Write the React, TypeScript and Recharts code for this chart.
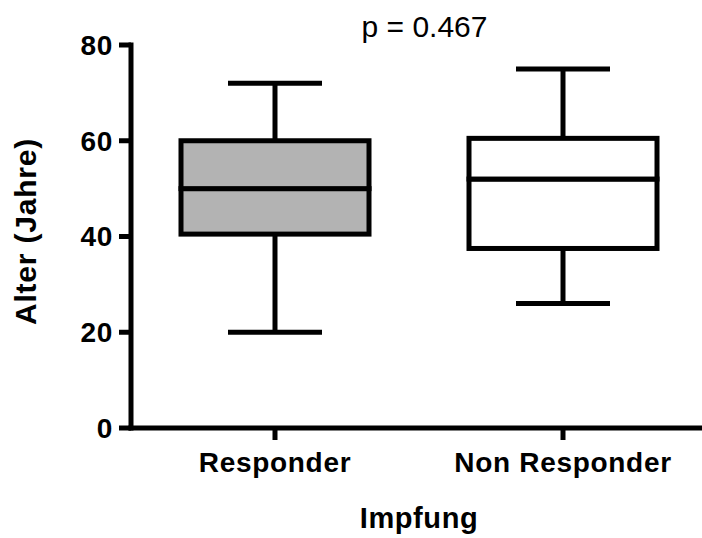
import React from "react";
import { Bar, ComposedChart, XAxis, YAxis } from "recharts";

const categories = ["Responder", "Non Responder"];
const minValues = [20, 26];
const q1Values = [40.5, 37.5];
const medianValues = [50, 52];
const q3Values = [60, 60.5];
const maxValues = [72, 75];
const boxFills = ["#b3b3b3", "#ffffff"];
const yTicks = [0, 20, 40, 60, 80];
const pValueText = "p = 0.467";

const data = categories.map((name, i) => ({
  name,
  base: minValues[i],
  lowWhisker: q1Values[i] - minValues[i],
  lowBox: medianValues[i] - q1Values[i],
  highBox: q3Values[i] - medianValues[i],
  highWhisker: maxValues[i] - q3Values[i],
  fill: boxFills[i],
}));

const FONT = 'Arial, "Liberation Sans", Helvetica, sans-serif';
const INK = "#000000";
const SW = 5;

function LowWhisker(props: any) {
  const { x, y, width, height } = props;
  const cx = x + width / 2;
  const half = width / 4;
  return (
    <g>
      <line x1={cx} x2={cx} y1={y} y2={y + height} stroke={INK} strokeWidth={SW} />
      <line x1={cx - half} x2={cx + half} y1={y + height} y2={y + height} stroke={INK} strokeWidth={SW} />
    </g>
  );
}

function HighWhisker(props: any) {
  const { x, y, width, height } = props;
  const cx = x + width / 2;
  const half = width / 4;
  return (
    <g>
      <line x1={cx} x2={cx} y1={y} y2={y + height} stroke={INK} strokeWidth={SW} />
      <line x1={cx - half} x2={cx + half} y1={y} y2={y} stroke={INK} strokeWidth={SW} />
    </g>
  );
}

function BoxPart(props: any) {
  const { x, y, width, height, payload } = props;
  return (
    <rect
      x={x}
      y={y}
      width={width}
      height={height}
      fill={payload.fill}
      stroke={INK}
      strokeWidth={SW}
    />
  );
}

export default function App() {
  return (
    <div style={{ position: "absolute", left: 0, top: 0, width: 702, height: 538, overflow: "hidden", background: "#fff" }}>
      <ComposedChart
        width={702}
        height={538}
        data={data}
        margin={{ top: 45, right: -5, bottom: 0, left: 0 }}
        barCategoryGap={0}
      >
        <XAxis
          dataKey="name"
          type="category"
          interval={0}
          height={110}
          axisLine={{ stroke: INK, strokeWidth: SW, strokeLinecap: "square" }}
          tickLine={{ stroke: INK, strokeWidth: SW }}
          tickSize={12}
          tickMargin={12}
          tick={{ fill: INK, fontSize: 28, fontWeight: 700, fontFamily: FONT, letterSpacing: 0.7 }}
          label={{
            value: "Impfung",
            position: "insideBottom",
            offset: 10,
            style: { fill: INK, fontSize: 29, fontWeight: 700, fontFamily: FONT, letterSpacing: 0.6 },
          }}
        />
        <YAxis
          type="number"
          domain={[0, 80]}
          ticks={yTicks}
          width={131}
          axisLine={{ stroke: INK, strokeWidth: SW, strokeLinecap: "square" }}
          tickLine={{ stroke: INK, strokeWidth: SW }}
          tickSize={12}
          tickMargin={6}
          tick={{ fill: INK, fontSize: 28, fontWeight: 700, fontFamily: FONT, letterSpacing: 0.7 }}
          label={{
            value: "Alter (Jahre)",
            angle: -90,
            position: "center",
            dx: -40,
            dy: -5,
            style: { fill: INK, fontSize: 30, fontWeight: 700, fontFamily: FONT, letterSpacing: 0.8 },
          }}
        />
        <Bar dataKey="base" stackId="box" barSize={188} fill="none" shape={() => <g />} isAnimationActive={false} />
        <Bar dataKey="lowWhisker" stackId="box" barSize={188} shape={LowWhisker} isAnimationActive={false} />
        <Bar dataKey="lowBox" stackId="box" barSize={188} shape={BoxPart} isAnimationActive={false} />
        <Bar dataKey="highBox" stackId="box" barSize={188} shape={BoxPart} isAnimationActive={false} />
        <Bar dataKey="highWhisker" stackId="box" barSize={188} shape={HighWhisker} isAnimationActive={false} />
      </ComposedChart>
      <svg width={702} height={60} style={{ position: "absolute", left: 0, top: 0, pointerEvents: "none" }}>
        <text x={424.5} y={37} textAnchor="middle" fontSize={30} fontFamily={FONT} fill={INK}>
          {pValueText}
        </text>
      </svg>
    </div>
  );
}
